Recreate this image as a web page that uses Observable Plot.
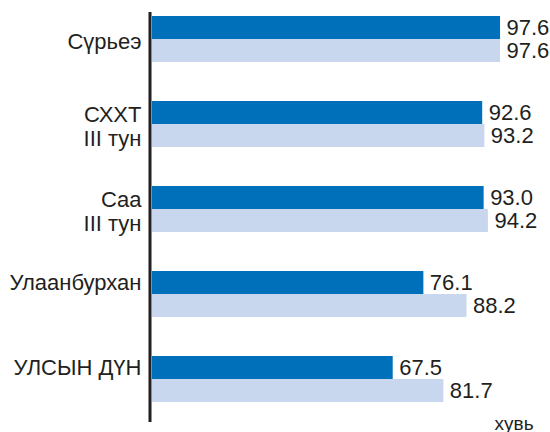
<!DOCTYPE html>
<html>
<head>
<meta charset="utf-8">
<script src="https://cdn.jsdelivr.net/npm/d3@7"></script>
<script src="https://cdn.jsdelivr.net/npm/@observablehq/plot@0.6"></script>
<style>
  html, body { margin: 0; padding: 0; background: #fff; }
  #chart { width: 550px; height: 432px; }
</style>
</head>
<body>
<div id="chart"></div>
<script>
// Categories (top to bottom)
const categories = ["Сүрьеэ", "СХХТ\nIII тун", "Саа\nIII тун", "Улаанбурхан", "УЛСЫН ДҮН"];
// Series values (percent)
const seriesDark = [97.6, 92.6, 93.0, 76.1, 67.5];
const seriesLight = [97.6, 93.2, 94.2, 88.2, 81.7];
const unitLabel = "хувь";

const darkRows = categories.map((c, i) => ({category: c, value: seriesDark[i]}));
const lightRows = categories.map((c, i) => ({category: c, value: seriesLight[i]}));

const DARK = "#0070bb";
const LIGHT = "#c8d6ee";
const INK = "#231f20";
const FONT = "'Liberation Sans', Arial, Helvetica, sans-serif";

const centeredLabels = categories.slice(0, 3);
const topLabels = categories.slice(3);

const chart = Plot.plot({
  width: 550,
  height: 432,
  marginLeft: 152,
  marginRight: 41.4,
  marginTop: 12,
  marginBottom: 10,
  style: {fontFamily: FONT, color: INK, background: "#fff"},
  x: {domain: [0, 100], axis: null},
  y: {domain: categories, axis: null, paddingInner: 0.46, paddingOuter: 0.14, align: 0.17},
  marks: [
    Plot.barX(darkRows, {x: "value", y: "category", fill: DARK, insetBottom: 23}),
    Plot.barX(lightRows, {x: "value", y: "category", fill: LIGHT, insetTop: 23}),
    Plot.ruleX([0], {stroke: INK, strokeWidth: 3, dx: -2.5}),
    Plot.text(darkRows, {x: "value", y: "category", text: d => d.value.toFixed(1), textAnchor: "start", dx: 6, dy: -11.5, fontSize: 22, fill: INK}),
    Plot.text(lightRows, {x: "value", y: "category", text: d => d.value.toFixed(1), textAnchor: "start", dx: 6, dy: 11.5, fontSize: 22, fill: INK}),
    Plot.text(centeredLabels, {y: d => d, text: d => d, frameAnchor: "left", textAnchor: "end", dx: -11, dy: 2, fontSize: 22, lineHeight: 1.08, fill: INK}),
    Plot.text(topLabels, {y: d => d, text: d => d, frameAnchor: "left", textAnchor: "end", dx: -11, dy: -11.5, fontSize: 22, fill: INK}),
    Plot.text([unitLabel], {frameAnchor: "bottom-right", text: d => d, textAnchor: "end", dx: 24.5, dy: 7, fontSize: 19, fill: INK})
  ]
});
document.getElementById("chart").appendChild(chart);
</script>
</body>
</html>
